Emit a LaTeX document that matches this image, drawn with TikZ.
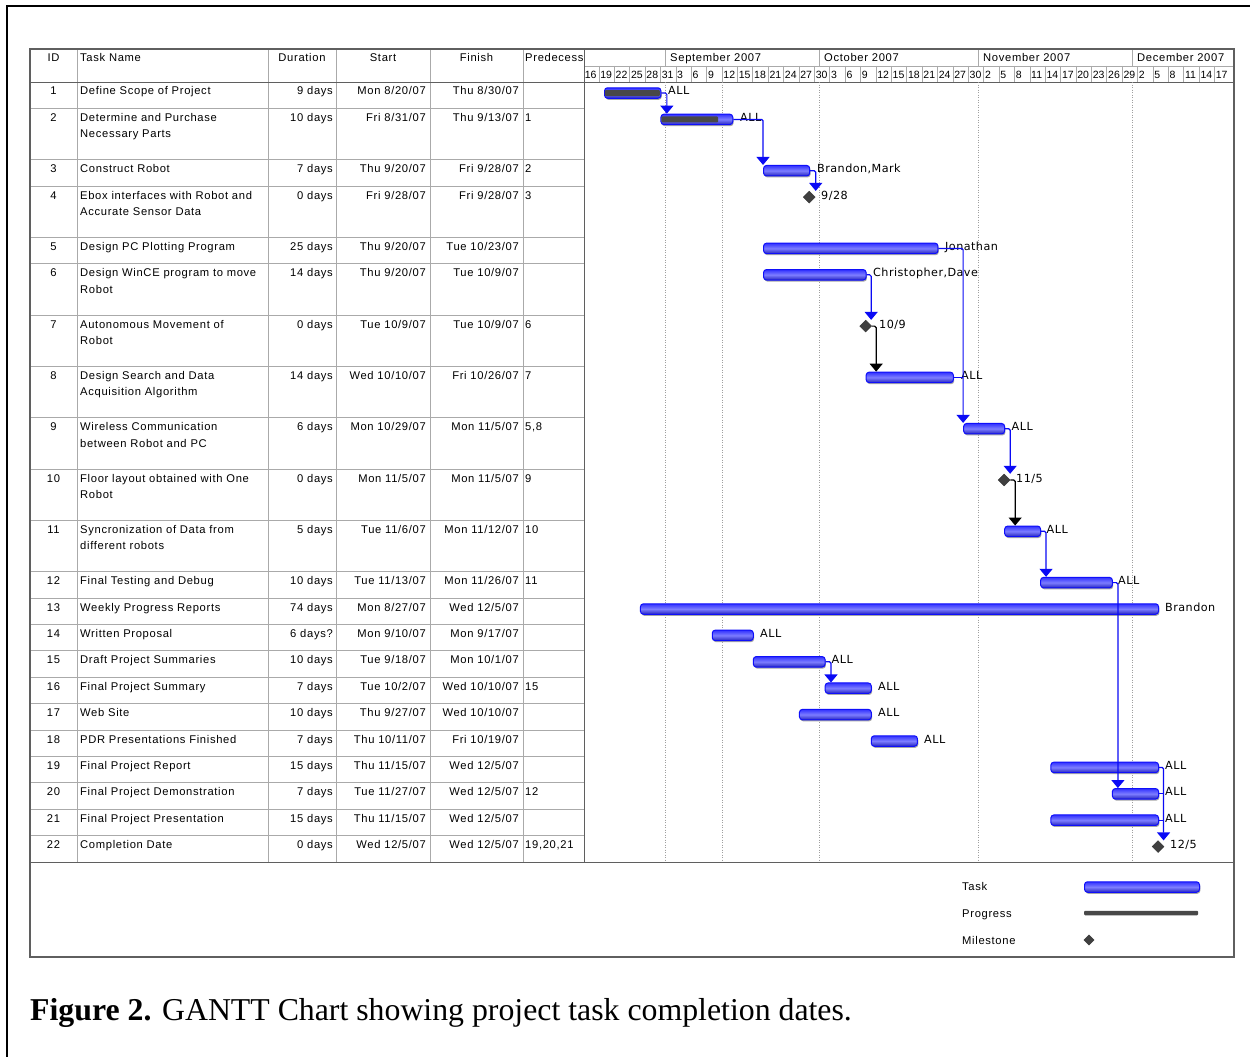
\documentclass[tikz,border=0pt]{standalone}
\usepackage{fontspec}
\setmainfont{Liberation Serif}
\newfontfamily\tabfont[LetterSpace=6]{Liberation Sans}
\newfontfamily\tierfont{Liberation Sans}
\newfontfamily\lblfont[LetterSpace=4]{DejaVu Sans}
\usetikzlibrary{arrows.meta,shapes.geometric,shadows}
\definecolor{gridgray}{RGB}{170,170,170}
\definecolor{framegray}{RGB}{95,95,95}
\definecolor{barblue}{RGB}{15,15,250}
\definecolor{barfill}{RGB}{50,50,255}
\definecolor{barlight}{RGB}{125,125,255}
\definecolor{progdark}{RGB}{72,72,72}
\definecolor{msdark}{RGB}{64,64,64}
\definecolor{connblue}{RGB}{10,10,245}
\newcommand{\trow}[7]{%
  \node[tabtxt,anchor=base] (id#1) at (53.5,{#2+13}) {#1};
  \node[tabtxt,anchor=base west] (nm#1) at (80,{#2+13}) {#3};
  \node[tabtxt,anchor=base east] (du#1) at (333,{#2+13}) {#4};
  \node[tabtxt,anchor=base east] (st#1) at (426,{#2+13}) {#5};
  \node[tabtxt,anchor=base east] (fi#1) at (519,{#2+13}) {#6};
  \if\relax\detokenize{#7}\relax\else
  \node[tabtxt,anchor=base west] (pr#1) at (525,{#2+13}) {#7};\fi}
\newcommand{\tline}[3]{\node[tabtxt,anchor=base west] (#1) at (80,{#2+29.5}) {#3};}
\newcommand{\gbar}[4]{\node[taskbar,minimum width={(#4-#3)*5.13}] (#1) at ({583.5+5.13*#3},{#2+11}) {};}
\newcommand{\gprog}[4]{\node[progbar,minimum width={(#4-#3)*5.13}] (#1) at ({583.5+5.13*#3},{#2+11}) {};}
\newcommand{\gms}[3]{\node[milestone] (#1) at ({583.5+5.13*#3},{#2+11}) {};}
\newcommand{\glab}[4]{\node[lbl] (#1) at (#3,{#2+13}) {#4};}
\begin{document}
\begin{tikzpicture}[x=1pt,y=-1pt,
  tabtxt/.style={font=\tabfont\fontsize{11.2}{13}\selectfont,inner sep=0pt},
  tiertxt/.style={font=\tierfont\fontsize{10.5}{12}\selectfont,inner sep=0pt,anchor=base west},
  lbl/.style={font=\lblfont\fontsize{11.2}{13}\selectfont,inner sep=0pt,anchor=base west},
  gridline/.style={draw=gridgray,line width=0.8pt},
  dotline/.style={draw=gray!75,line width=0.6pt,dash pattern=on 1pt off 1.5pt},
  taskbar/.style={draw=barblue,line width=1pt,rounded corners=3pt,
    top color=barfill,bottom color=barfill!75!black,middle color=barlight,
    minimum height=10.5pt,inner sep=0pt,anchor=west,
    drop shadow={shadow xshift=0.8pt,shadow yshift=-1.5pt,fill=black!35,opacity=1}},
  progbar/.style={fill=progdark,minimum height=6pt,inner sep=0pt,anchor=west,rounded corners=1pt},
  milestone/.style={diamond,aspect=1,fill=msdark,draw=black!80,line width=0.4pt,minimum size=12pt,inner sep=0pt},
  conn/.style={draw=connblue,line width=1.2pt,rounded corners=1.5pt,-{Triangle[width=13pt,length=8pt]}},
  connk/.style={conn,draw=black},
  connplain/.style={draw=connblue,line width=1.2pt,rounded corners=1.5pt}]
\useasboundingbox (0,0) rectangle (1250,1057);
\fill[white] (0,0) rectangle (1250,1057);
% outer frame
\draw[line width=2pt] (7,1060) -- (7,6) -- (1255,6);
% table grid
\foreach \y in {108.4,159.7,186.1,237.4,263.8,315.1,366.4,417.7,469,520.3,571.6,598,624.4,650.8,677.2,703.6,730,756.4,782.8,809.2,835.6}
  \draw[gridline] (30,\y) -- (584,\y);
\foreach \x in {77,268,336,430,523}
  \draw[gridline] (\x,49) -- (\x,862);
\foreach \i in {1,...,41}
  \draw[draw=gridgray,line width=0.6pt] ({583.5+\i*15.39},66) -- ({583.5+\i*15.39},82);
\foreach \x in {665.6,819.5,978.5,1132.4}
  \draw[gridline] (\x,49) -- (\x,66);
\draw[gridline] (584,66) -- (1234,66);
\draw[draw=framegray,line width=1pt] (584,49) -- (584,862);
\draw[draw=framegray,line width=1pt] (30,82) -- (1234,82);
\draw[draw=framegray,line width=1pt] (30,862) -- (1234,862);
% dotted lines
\foreach \x in {665.6,722,819.5,978.5,1132.4}
  \draw[dotline] (\x,82) -- (\x,862);
\draw[draw=framegray,line width=1.4pt] (30,49) rectangle (1234,957);
% header
\node[tabtxt,anchor=base] (hid) at (53.5,62) {ID};
\node[tabtxt,anchor=base west] (hname) at (80,62) {Task Name};
\node[tabtxt,anchor=base] (hdur) at (302,62) {Duration};
\node[tabtxt,anchor=base] (hstart) at (383,62) {Start};
\node[tabtxt,anchor=base] (hfin) at (476.5,62) {Finish};
\node[tabtxt,anchor=base west] (hpred) at (525,62) {Predecess};
\node[tabtxt,anchor=base west] (msep) at (670,62) {September 2007};
\node[tabtxt,anchor=base west] (moct) at (824,62) {October 2007};
\node[tabtxt,anchor=base west] (mnov) at (983,62) {November 2007};
\node[tabtxt,anchor=base west] (mdec) at (1137,62) {December 2007};
\foreach \lab [count=\i from 0] in {16,19,22,25,28,31,3,6,9,12,15,18,21,24,27,30,3,6,9,12,15,18,21,24,27,30,2,5,8,11,14,17,20,23,26,29,2,5,8,11,14,17}
  \node[tiertxt] (d\i) at ({583.5+\i*15.39+1.2},78) {\lab};
% rows
\trow{1}{82}{Define Scope of Project}{9 days}{Mon 8/20/07}{Thu 8/30/07}{}
\trow{2}{108.4}{Determine and Purchase}{10 days}{Fri 8/31/07}{Thu 9/13/07}{1}
\tline{nm2b}{108.4}{Necessary Parts}
\trow{3}{159.7}{Construct Robot}{7 days}{Thu 9/20/07}{Fri 9/28/07}{2}
\trow{4}{186.1}{Ebox interfaces with Robot and}{0 days}{Fri 9/28/07}{Fri 9/28/07}{3}
\tline{nm4b}{186.1}{Accurate Sensor Data}
\trow{5}{237.4}{Design PC Plotting Program}{25 days}{Thu 9/20/07}{Tue 10/23/07}{}
\trow{6}{263.8}{Design WinCE program to move}{14 days}{Thu 9/20/07}{Tue 10/9/07}{}
\tline{nm6b}{263.8}{Robot}
\trow{7}{315.1}{Autonomous Movement of}{0 days}{Tue 10/9/07}{Tue 10/9/07}{6}
\tline{nm7b}{315.1}{Robot}
\trow{8}{366.4}{Design Search and Data}{14 days}{Wed 10/10/07}{Fri 10/26/07}{7}
\tline{nm8b}{366.4}{Acquisition Algorithm}
\trow{9}{417.7}{Wireless Communication}{6 days}{Mon 10/29/07}{Mon 11/5/07}{5,8}
\tline{nm9b}{417.7}{between Robot and PC}
\trow{10}{469}{Floor layout obtained with One}{0 days}{Mon 11/5/07}{Mon 11/5/07}{9}
\tline{nm10b}{469}{Robot}
\trow{11}{520.3}{Syncronization of Data from}{5 days}{Tue 11/6/07}{Mon 11/12/07}{10}
\tline{nm11b}{520.3}{different robots}
\trow{12}{571.6}{Final Testing and Debug}{10 days}{Tue 11/13/07}{Mon 11/26/07}{11}
\trow{13}{598}{Weekly Progress Reports}{74 days}{Mon 8/27/07}{Wed 12/5/07}{}
\trow{14}{624.4}{Written Proposal}{6 days?}{Mon 9/10/07}{Mon 9/17/07}{}
\trow{15}{650.8}{Draft Project Summaries}{10 days}{Tue 9/18/07}{Mon 10/1/07}{}
\trow{16}{677.2}{Final Project Summary}{7 days}{Tue 10/2/07}{Wed 10/10/07}{15}
\trow{17}{703.6}{Web Site}{10 days}{Thu 9/27/07}{Wed 10/10/07}{}
\trow{18}{730}{PDR Presentations Finished}{7 days}{Thu 10/11/07}{Fri 10/19/07}{}
\trow{19}{756.4}{Final Project Report}{15 days}{Thu 11/15/07}{Wed 12/5/07}{}
\trow{20}{782.8}{Final Project Demonstration}{7 days}{Tue 11/27/07}{Wed 12/5/07}{12}
\trow{21}{809.2}{Final Project Presentation}{15 days}{Thu 11/15/07}{Wed 12/5/07}{}
\trow{22}{835.6}{Completion Date}{0 days}{Wed 12/5/07}{Wed 12/5/07}{19,20,21}
% bars
\gbar{b1}{82}{4}{15}
\gbar{b2}{108.4}{15}{29}
\gbar{b3}{159.7}{35}{44}
\gms{m4}{186.1}{44}
\gbar{b5}{237.4}{35}{69}
\gbar{b6}{263.8}{35}{55}
\gms{m7}{315.1}{55}
\gbar{b8}{366.4}{55}{72}
\gbar{b9}{417.7}{74}{82}
\gms{m10}{469}{82}
\gbar{b11}{520.3}{82}{89}
\gbar{b12}{571.6}{89}{103}
\gbar{b13}{598}{11}{112}
\gbar{b14}{624.4}{25}{33}
\gbar{b15}{650.8}{33}{47}
\gbar{b16}{677.2}{47}{56}
\gbar{b17}{703.6}{42}{56}
\gbar{b18}{730}{56}{65}
\gbar{b19}{756.4}{91}{112}
\gbar{b20}{782.8}{103}{112}
\gbar{b21}{809.2}{91}{112}
\gms{m22}{835.6}{112}
\gprog{p1}{82}{4.15}{14.85}
\gprog{p2}{108.4}{15.15}{26.2}
% labels
\glab{l1}{82}{668}{ALL}
\glab{l2}{108.4}{740}{ALL}
\glab{l3}{159.7}{817}{Brandon,Mark}
\glab{l4}{186.1}{821}{9/28}
\glab{l5}{237.4}{945}{Jonathan}
\glab{l6}{263.8}{873}{Christopher,Dave}
\glab{l7}{315.1}{879}{10/9}
\glab{l8}{366.4}{961}{ALL}
\glab{l9}{417.7}{1011.5}{ALL}
\glab{l10}{469}{1016}{11/5}
\glab{l11}{520.3}{1046.5}{ALL}
\glab{l12}{571.6}{1118}{ALL}
\glab{l13}{598}{1165}{Brandon}
\glab{l14}{624.4}{760}{ALL}
\glab{l15}{650.8}{831.5}{ALL}
\glab{l16}{677.2}{878}{ALL}
\glab{l17}{703.6}{878}{ALL}
\glab{l18}{730}{924}{ALL}
\glab{l19}{756.4}{1165}{ALL}
\glab{l20}{782.8}{1165}{ALL}
\glab{l21}{809.2}{1165}{ALL}
\glab{l22}{835.6}{1170}{12/5}
% connectors
\draw[conn] (b1.east) -| ([xshift=6.4]b2.north west);
\draw[conn] (b2.east) -| (b3.north west);
\draw[conn] (b3.east) -| ([xshift=6.5]m4.north);
\draw[conn] (b6.east) -| ([xshift=5.5]m7.north);
\draw[connk] (m7.east) -| ([xshift=10.5]b8.north west);
\draw[conn] (b5.east) -| (b9.north west);
\draw[connplain] (b8.east) -- (b8.east -| b9.north west);
\draw[conn] (b9.east) -| ([xshift=6]m10.north);
\draw[connk] (m10.east) -| ([xshift=11]b11.north west);
\draw[conn] (b11.east) -| ([xshift=6]b12.north west);
\draw[conn] (b12.east) -| ([xshift=6]b20.north west);
\draw[conn] (b15.east) -| ([xshift=6.4]b16.north west);
\coordinate (v22) at ([xshift=5.5]m22.north);
\draw[conn] (b19.east) -| (v22);
\draw[connplain] (b20.east) -- (b20.east -| v22);
\draw[connplain] (b21.east) -- (b21.east -| v22);
% legend
\node[tabtxt,anchor=base west] (lgt1) at (962,890) {Task};
\node[tabtxt,anchor=base west] (lgt2) at (962,917) {Progress};
\node[tabtxt,anchor=base west] (lgt3) at (962,944) {Milestone};
\node[taskbar,minimum width=115] (lg1) at (1084,887) {};
\node[progbar,minimum height=4.5pt,minimum width=114] (lg2) at (1084,913) {};
\node[milestone,minimum size=10.5pt] (lg3) at (1089,940) {};
% caption
\node[anchor=base west,inner sep=0pt,font=\fontsize{31.8}{36}\selectfont] (cap) at (30,1020) {\textbf{Figure 2.} GANTT Chart showing project task completion dates.};
\end{tikzpicture}
\end{document}
